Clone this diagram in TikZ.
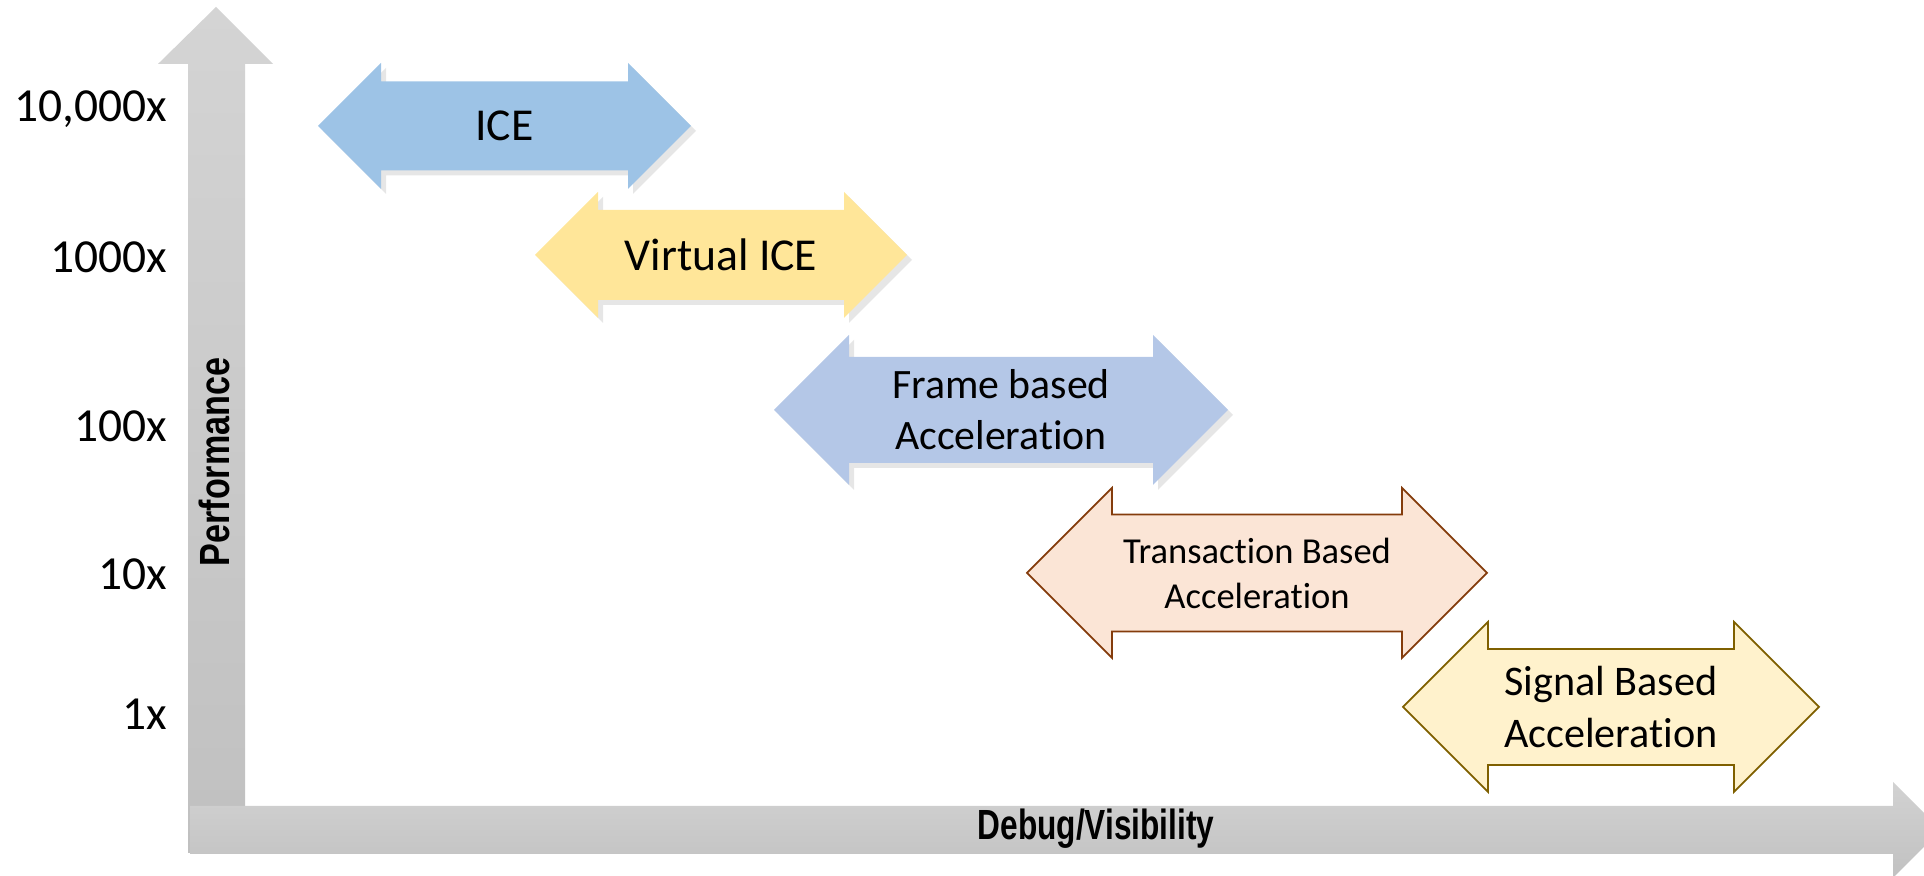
\documentclass[tikz,border=0pt]{standalone}
\usepackage{fontspec}
\setmainfont{Carlito}[Ligatures=CommonOff]
\newfontfamily\axisfont{Liberation Sans}
\usepackage{tikz}
\usetikzlibrary{arrows.meta,shadows}
\definecolor{iceblue}{RGB}{157,195,230}
\definecolor{vicegold}{RGB}{255,230,153}
\definecolor{frameblue}{RGB}{180,199,231}
\definecolor{transfill}{RGB}{251,229,214}
\definecolor{transline}{RGB}{132,60,12}
\definecolor{sigfill}{RGB}{255,242,204}
\definecolor{sigline}{RGB}{127,96,0}
\definecolor{axtop}{RGB}{212,212,212}
\definecolor{axbot}{RGB}{192,192,192}
% double headed block arrow: [options]{centre}{half length}{half shaft}{half head}
\newcommand{\dblarrow}[5][]{%
  \path[#1,shift={(#2)}] (-#3,0) -- ++(#5,#5) -- ++(0,#4-#5) -- (#3-#5,#4) -- ++(0,#5-#4) -- (#3,0)
    -- ++(-#5,-#5) -- ++(0,#5-#4) -- (-#3+#5,-#4) -- ++(0,#4-#5) -- cycle;}

\begin{document}
\begin{tikzpicture}[>=Latex]
\tikzset{lbl/.style={inner sep=0pt,align=center,text=black},
  softshadow/.style={drop shadow={opacity=0.2,shadow xshift=0.05cm,shadow yshift=-0.05cm}},
  scalelabel/.style={anchor=base east,inner sep=0pt,font=\fontsize{13.5}{16}\selectfont},
  axislabel/.style={inner sep=0pt,font=\axisfont\bfseries\fontsize{12}{14}\selectfont}}
\clip (0,0) rectangle (19.24,8.76);
% axes
\shade[top color=axtop,bottom color=axbot] (1.88,0.23) -- (1.88,8.12) -- (1.58,8.12) -- (2.16,8.69) -- (2.73,8.12) -- (2.45,8.12) -- (2.45,0.23) -- cycle;
\shade[top color=axtop!90!axbot,bottom color=axbot!95!axtop] (1.90,0.22) -- (1.90,0.70) -- (18.93,0.70) -- (18.93,0.94) -- (19.41,0.46) -- (18.93,-0.02) -- (18.93,0.22) -- cycle;
\node[axislabel,rotate=90] (perf) at (2.14,4.14) {\scalebox{0.81}[1]{Performance}};
\node[axislabel] (dbg) at (10.96,0.47) {\scalebox{0.75}[1]{Debug/Visibility}};
% speed levels
\foreach \lab/\yy [count=\k] in {{10,000x}/7.54,1000x/6.03,100x/4.34,10x/2.86,1x/1.46}
  \node[scalelabel] (lvl\k) at (1.68,\yy) {\lab};
% methods
\dblarrow[fill=iceblue,softshadow]{5.045,7.50}{1.865}{0.445}{0.63}
\node[lbl,font=\fontsize{13}{16}\selectfont] (ice) at (5.045,7.50) {ICE};
\dblarrow[fill=vicegold,softshadow]{7.21,6.21}{1.86}{0.45}{0.63}
\node[lbl,font=\fontsize{13}{16}\selectfont] (vice) at (7.21,6.21) {Virtual ICE};
\dblarrow[fill=frameblue,softshadow]{10.01,4.66}{2.27}{0.53}{0.75}
\node[lbl,font=\fontsize{11.9}{14.5}\selectfont] (frame) at (10.01,4.66) {Frame based\\Acceleration};
\dblarrow[fill=transfill,draw=transline,line width=0.5pt]{12.57,3.03}{2.30}{0.585}{0.85}
\node[lbl,font=\fontsize{10.4}{12.8}\selectfont] (trans) at (12.57,3.03) {Transaction Based\\Acceleration};
\dblarrow[fill=sigfill,draw=sigline,line width=0.5pt]{16.11,1.69}{2.08}{0.58}{0.85}
\node[lbl,font=\fontsize{12}{14.8}\selectfont] (sig) at (16.11,1.69) {Signal Based\\Acceleration};
\end{tikzpicture}
\end{document}
